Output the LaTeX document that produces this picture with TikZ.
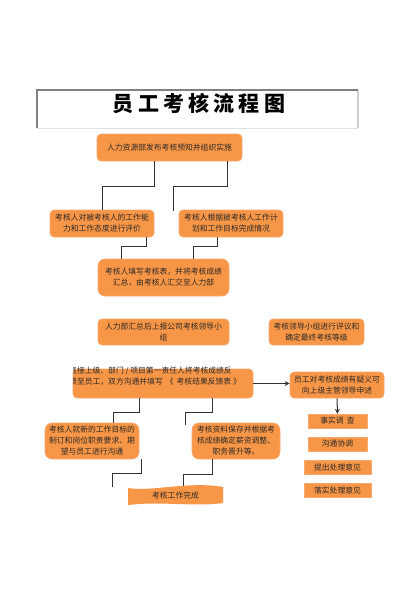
\documentclass[tikz,border=0pt]{standalone}
\usepackage{fontspec}
\setmainfont{Noto Sans CJK SC}
\newfontfamily\titlefont[LetterSpace=20]{Noto Sans CJK SC}
\usetikzlibrary{arrows.meta}
\definecolor{boxfill}{HTML}{F79646}
\definecolor{boxedge}{HTML}{F9A86E}
\definecolor{txt}{HTML}{2E2A26}
\definecolor{conncol}{HTML}{333333}
\begin{document}
\begin{tikzpicture}[x=1pt,y=-1pt,
  every node/.style={font=\fontsize{7.8}{11}\selectfont, text=txt, inner sep=0pt},
  rbox/.style={fill=boxfill, draw=boxedge, line width=0.6pt, rounded corners=4pt, align=center},
  rbigbox/.style={rbox, rounded corners=7pt},
  sbox/.style={fill=boxfill, draw=boxedge, line width=0.4pt, align=center},
  link/.style={draw=conncol, line width=1pt},
  arr/.style={link, -{Stealth[length=5pt,width=5pt]}}]
\fill[white] (0,0) rectangle (400,600);
\useasboundingbox (0,0) rectangle (400,600);

% title frame
\draw[line width=0.8pt, draw=black!12] (37,128) -- (358,128);
\draw[line width=1.2pt, draw=black!18] (358,90) -- (358,128);
\draw[line width=1.5pt, draw=black!50] (37,128) -- (37,90) -- (358,90);
\node[font=\titlefont\bfseries\fontsize{21}{24}\selectfont, text=black] (title) at (199,104) {员工考核流程图};

% boxes
\node[rbox, minimum width=145pt, minimum height=27pt] (b1) at (169.5,147.5) {人力资源部发布考核预知并组织实施};
\node[rbox, minimum width=104pt, minimum height=27pt] (b2) at (102,223.5) {考核人对被考核人的工作能\\力和工作态度进行评价};
\node[rbox, minimum width=104pt, minimum height=27pt] (b3) at (231,223.5) {考核人根据被考核人工作计\\划和工作目标完成情况};
\node[rbigbox, minimum width=131pt, minimum height=37pt] (b4) at (163.5,277.5) {考核人填写考核表，并将考核成绩\\汇总，由考核人汇交至人力部};
\node[rbox, minimum width=131pt, minimum height=26pt] (b5) at (163.5,332) {人力部汇总后上报公司考核领导小\\组};
\node[rbox, minimum width=95pt, minimum height=26pt] (b6) at (316.5,332) {考核领导小组进行评议和\\确定最终考核等级};

\node[rbox, minimum width=180pt, minimum height=29pt] (b7) at (163,383.5) {};
\begin{scope}
  \clip (73,360) rectangle (262,400);
  \node[anchor=north west, align=left] (t7) at (69,367) {直接上级、部门 / 项目第一责任人将考核成绩反\\馈至员工，双方沟通并填写 \,《 \,考核结果反馈表 》};
\end{scope}

\node[rbox, minimum width=94pt, minimum height=26pt] (b8) at (337,385) {员工对考核成绩有疑义可\\向上级主管领导申述};

\node[sbox, minimum width=59pt, minimum height=14pt] (s1) at (337.5,421) {事实调 \,查};
\node[sbox, minimum width=59pt, minimum height=14pt] (s2) at (337.5,444) {沟通协调};
\node[sbox, minimum width=67pt, minimum height=14pt] (s3) at (337.5,467) {提出处理意见};
\node[sbox, minimum width=67pt, minimum height=14pt] (s4) at (337.5,490) {落实处理意见};

\node[rbigbox, minimum width=94pt, minimum height=36pt] (b9) at (92,441) {考核人就新的工作目标的\\制订和岗位职责要求、期\\望与员工进行沟通};
\node[rbigbox, minimum width=88pt, minimum height=36pt] (b10) at (236,441) {考核资料保存并根据考\\核成绩确定薪资调整、\\职务晋升等。};

% final wavy box
\fill[boxfill] (128,488) .. controls (152,492) and (188,481) .. (223,487)
  -- (223,503) .. controls (196,507) and (160,501) .. (128,505) -- cycle;
\node[minimum width=95pt, minimum height=19pt] (fin) at (175.5,495.5) {考核工作完成};

% free ends
\coordinate (e1) at (173.5,211);
\coordinate (e2) at (185,425);
\coordinate (e3) at (112,487);

% connectors
\draw[link] ([xshift=-15.5pt]b1.south) -- ++(0,25.5) -| (b2.north);
\draw[link] ([xshift=58pt]b1.south) -- ++(0,25) -| (e1);
\draw[link] ([xshift=44.5pt]b2.south) -- ++(0,9.5) -| ([xshift=-42.5pt]b4.north);
\draw[link] ([xshift=-13.5pt]b3.south) -- ++(0,9.5) -| ([xshift=29.5pt]b4.north);
\draw[link] ([xshift=-24pt]b7.south) -- ++(0,14) -| ([xshift=21pt]b9.north);
\draw[link] ([xshift=49pt]b7.south) -- ++(0,14) -| (e2);
\draw[link] ([xshift=49pt]b9.south) -- ++(0,14) -| (e3);
\draw[link] ([xshift=-24pt]b10.south) -- ++(0,15) -| ([xshift=7.5pt]fin.north);

\draw[arr] (b7.east) -- (b7.east -| b8.west);
\draw[arr] (b8.south) -- (s1.north);
\end{tikzpicture}
\end{document}
